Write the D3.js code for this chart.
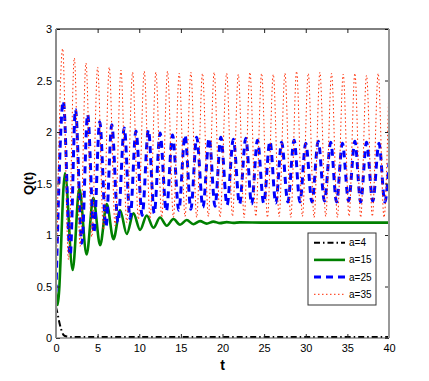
<!DOCTYPE html>
<html>
<head>
<meta charset="utf-8">
<script src="https://cdn.jsdelivr.net/npm/d3@7"></script>
<style>
  body { margin: 0; background: #fff; }
  text { font-family: "Liberation Sans", Arial, sans-serif; }
</style>
</head>
<body>
<div id="chart"></div>
<script>
// series: extrema (peaks / troughs) of each curve
const tA4 = [0, 0.15, 0.35, 0.6, 0.9, 1.3, 2, 40];
const qA4 = [0.30, 0.25, 0.17, 0.09, 0.03, 0.015, 0.01, 0.01];

const tA15 = [0, 0.2, 1.08, 2.0, 2.8, 3.68, 4.48, 5.3, 6.1, 6.9, 7.7, 8.5, 9.3, 10.1, 10.9, 11.7,
  12.5, 13.3, 14.1, 14.9, 15.7, 16.5, 17.3, 18.1, 18.9, 19.7, 20.5, 21.3, 22.1, 25, 40];
const qA15 = [0.45, 0.32, 1.60, 0.66, 1.45, 0.81, 1.36, 0.90, 1.30, 0.96, 1.24, 1.01, 1.21, 1.05, 1.19, 1.07,
  1.17, 1.09, 1.155, 1.10, 1.145, 1.105, 1.135, 1.11, 1.13, 1.115, 1.125, 1.118, 1.123, 1.12, 1.12];

const tA25Peak = [0.88, 2.34, 3.8, 5.25, 6.7, 8.2, 9.6, 11.1, 12.5, 14.0, 15.5, 16.9, 18.4, 19.8,
  21.3, 22.8, 24.2, 25.7, 27.1, 28.6, 30.0, 31.5, 33.0, 34.4, 35.9, 37.3, 38.8];
const qA25Peak = [2.30, 2.22, 2.17, 2.10, 2.07, 2.04, 2.01, 2.02, 1.99, 1.97, 1.97, 1.95, 1.94, 1.95,
  1.93, 1.94, 1.92, 1.91, 1.90, 1.92, 1.89, 1.91, 1.90, 1.89, 1.91, 1.90, 1.89];
const tA25Low = [0, 1.7, 3.1, 4.55, 6.0, 7.45, 8.9, 10.35, 11.8, 13.25, 14.75, 16.2, 17.65, 19.1,
  20.55, 22.05, 23.5, 24.95, 26.4, 27.85, 29.3, 30.75, 32.25, 33.7, 35.15, 36.6, 38.05, 39.5, 40];
const qA25Low = [0.45, 0.80, 0.92, 1.02, 1.08, 1.12, 1.16, 1.19, 1.21, 1.23, 1.24, 1.25, 1.27, 1.28,
  1.29, 1.30, 1.30, 1.31, 1.31, 1.32, 1.32, 1.32, 1.33, 1.32, 1.33, 1.32, 1.33, 1.32, 1.7];

const tA35Peak = [0.8, 2.2, 3.6, 5.0, 6.4, 7.8, 9.2, 10.6, 12.0, 13.4, 14.8, 16.2, 17.6, 19.0,
  20.5, 21.9, 23.3, 24.7, 26.1, 27.5, 28.9, 30.3, 31.7, 33.1, 34.5, 35.9, 37.3, 38.7, 40];
const qA35Peak = [2.81, 2.72, 2.67, 2.63, 2.63, 2.60, 2.58, 2.59, 2.58, 2.59, 2.57, 2.58, 2.57, 2.58,
  2.57, 2.56, 2.58, 2.57, 2.56, 2.57, 2.59, 2.57, 2.58, 2.57, 2.56, 2.57, 2.55, 2.57, 2.5];
const tA35Low = [0, 1.5, 2.9, 4.3, 5.7, 7.1, 8.5, 9.9, 11.3, 12.7, 14.1, 15.5, 16.9, 18.3, 19.7,
  21.2, 22.6, 24.0, 25.4, 26.8, 28.2, 29.6, 31.0, 32.4, 33.8, 35.2, 36.6, 38.0, 39.4];
const qA35Low = [0.42, 0.76, 0.89, 0.98, 1.05, 1.09, 1.12, 1.15, 1.16, 1.17, 1.17, 1.18, 1.17, 1.18, 1.17,
  1.18, 1.17, 1.18, 1.17, 1.18, 1.17, 1.18, 1.17, 1.18, 1.17, 1.18, 1.17, 1.18, 1.17];

const xTicks = [0, 5, 10, 15, 20, 25, 30, 35, 40];
const yTicks = [0, 0.5, 1, 1.5, 2, 2.5, 3];
const legendLabels = ["a=4", "a=15", "a=25", "a=35"];

const width = 429, height = 381,
    margin = {top: 29, right: 40, bottom: 43, left: 56};

// merge extrema into one sorted list of [t, q]
const merge = (t1, q1, t2, q2) =>
    d3.sort(d3.zip(t1, q1).concat(d3.zip(t2 || [], q2 || [])), d => d[0]);

const series = [
    {name: legendLabels[0], pts: merge(tA4, qA4), color: "#000", w: 2, dash: "6,3,1.5,3"},
    {name: legendLabels[1], pts: merge(tA15, qA15), color: "#008000", w: 2.6, dash: null},
    {name: legendLabels[2], pts: merge(tA25Peak, qA25Peak, tA25Low, qA25Low), color: "#0000ff", w: 3, dash: "7,5"},
    {name: legendLabels[3], pts: merge(tA35Peak, qA35Peak, tA35Low, qA35Low), color: "#ff2a00", w: 1, dash: "1.5,2.5"}
];

const x = d3.scaleLinear().domain([0, 40]).range([margin.left, width - margin.right]);
const y = d3.scaleLinear().domain([0, 3]).range([height - margin.bottom, margin.top]);

const svg = d3.select("#chart").append("svg")
    .attr("width", width)
    .attr("height", height);

svg.append("defs").append("clipPath").attr("id", "clip")
  .append("rect")
    .attr("x", margin.left).attr("y", margin.top)
    .attr("width", x(40) - x(0)).attr("height", y(0) - y(3));

const line = d3.line()
    .x(d => x(d[0]))
    .y(d => y(d[1]))
    .curve(d3.curveMonotoneX);

svg.append("g").attr("clip-path", "url(#clip)")
  .selectAll("path")
  .data(series)
  .join("path")
    .attr("fill", "none")
    .attr("stroke", d => d.color)
    .attr("stroke-width", d => d.w)
    .attr("stroke-dasharray", d => d.dash)
    .attr("d", d => line(d.pts));

// axes, ticks pointing inward
const gx = svg.append("g").attr("transform", `translate(0,${y(0)})`)
    .call(d3.axisBottom(x).tickValues(xTicks).tickSize(-4).tickPadding(6));
const gy = svg.append("g").attr("transform", `translate(${x(0)},0)`)
    .call(d3.axisLeft(y).tickValues(yTicks).tickSize(-4).tickPadding(4).tickFormat(d3.format("")));
const gt = svg.append("g").attr("transform", `translate(0,${y(3)})`)
    .call(d3.axisTop(x).tickValues(xTicks).tickSize(-4).tickFormat(""));
const gr = svg.append("g").attr("transform", `translate(${x(40)},0)`)
    .call(d3.axisRight(y).tickValues(yTicks).tickSize(-4).tickFormat(""));

[gx, gy, gt, gr].forEach(g => {
    g.select(".domain").remove();
    g.selectAll(".tick line").attr("stroke", "#222");
    g.selectAll("text").attr("font-size", 11).attr("fill", "#000")
        .style("font-family", "'Liberation Sans', Arial, sans-serif");
});

// box
svg.append("line").attr("x1", x(0)).attr("x2", x(40)).attr("y1", y(3)).attr("y2", y(3))
    .attr("stroke", "#000").attr("stroke-width", 1);
svg.append("line").attr("x1", x(0)).attr("x2", x(40)).attr("y1", y(0)).attr("y2", y(0))
    .attr("stroke", "#555").attr("stroke-width", 1);
svg.append("line").attr("x1", x(0)).attr("x2", x(0)).attr("y1", y(3)).attr("y2", y(0))
    .attr("stroke", "#8c8c8c").attr("stroke-width", 2);
svg.append("line").attr("x1", x(40)).attr("x2", x(40)).attr("y1", y(3)).attr("y2", y(0))
    .attr("stroke", "#999").attr("stroke-width", 2);

// axis labels
svg.append("text")
    .attr("x", (x(0) + x(40)) / 2)
    .attr("y", 370)
    .attr("text-anchor", "middle")
    .attr("font-size", 14)
    .attr("font-weight", "bold")
    .text("t");

svg.append("text")
    .attr("transform", `translate(33,${(y(0) + y(3)) / 2}) rotate(-90)`)
    .attr("text-anchor", "middle")
    .attr("font-size", 13)
    .attr("font-weight", "bold")
    .text("Q(t)");

// legend
const lg = svg.append("g").attr("transform", "translate(308,233)");
lg.append("rect")
    .attr("width", 68).attr("height", 72)
    .attr("fill", "#fff").attr("stroke", "#333").attr("stroke-width", 1);

const item = lg.selectAll("g.item")
    .data(series)
    .join("g")
    .attr("class", "item")
    .attr("transform", (d, i) => `translate(0,${9.7 + i * 17.2})`);

item.append("line")
    .attr("x1", 6).attr("x2", 37)
    .attr("stroke", d => d.color)
    .attr("stroke-width", d => d.w)
    .attr("stroke-dasharray", d => d.dash);

item.append("text")
    .attr("x", 41)
    .attr("dy", "0.35em")
    .attr("font-size", 10)
    .text(d => d.name);
</script>
</body>
</html>
